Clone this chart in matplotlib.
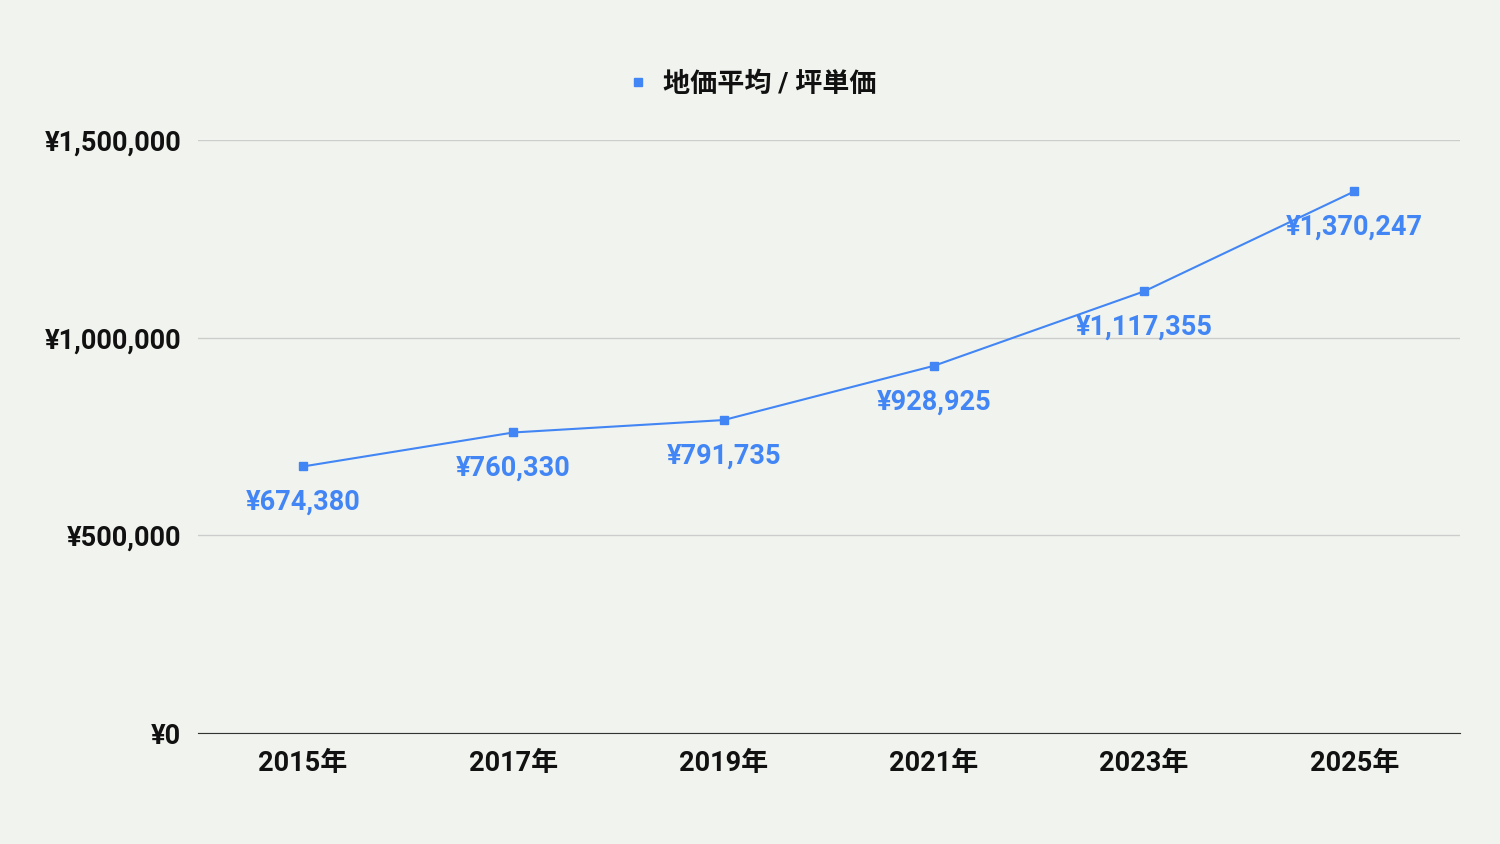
import matplotlib
matplotlib.use("Agg")
import matplotlib.pyplot as plt
from matplotlib.ticker import FuncFormatter

years = ["2015年", "2017年", "2019年", "2021年", "2023年", "2025年"]
values = [674380, 760330, 791735, 928925, 1117355, 1370247]
series_name = "地価平均 / 坪単価"

plt.rcParams['font.family'] = ['Roboto', 'Noto Sans CJK JP', 'DejaVu Sans']
bg = "#f1f4ee"
blue = "#4285f4"

fig = plt.figure(figsize=(15, 8.44), dpi=100, facecolor=bg)
ax = fig.add_axes([0.132, 0.1315, 0.841, 0.7025], facecolor=bg)
x = list(range(len(years)))
ax.plot(x, values, color=blue, lw=1.5, marker='s', ms=6, label=series_name)
for xi, v in zip(x, values):
    ax.annotate(f"¥{v:,}", (xi, v), xytext=(0, -26), textcoords='offset points',
                ha='center', va='center', color=blue, fontsize=19.5, fontweight='bold')
ax.set_xlim(-0.5, 5.5)
ax.set_ylim(0, 1500000)
ax.set_yticks([0, 500000, 1000000, 1500000])
ax.yaxis.set_major_formatter(FuncFormatter(lambda v, p: f"¥{int(v):,}"))
ax.set_xticks(x)
ax.set_xticklabels(years)
ax.grid(axis='y', color='#cccccc', lw=1)
ax.set_axisbelow(True)
for s in ['top', 'right', 'left']:
    ax.spines[s].set_visible(False)
ax.spines['bottom'].set_color('#333333')
ax.tick_params(length=0, labelsize=19.5, pad=12)
for lab in ax.get_xticklabels() + ax.get_yticklabels():
    lab.set_fontweight('bold')
    lab.set_color('#111111')
leg = ax.legend(loc='lower center', bbox_to_anchor=(0.44, 1.03), frameon=False,
                prop={'weight': 'bold', 'size': 19.5}, handlelength=0.6, handletextpad=0.6,
                markerscale=1.0)
for t in leg.get_texts():
    t.set_color('#111111')
leg.legend_handles[0].set_linestyle('none')
fig.savefig("out.png", dpi=100, facecolor=bg)
